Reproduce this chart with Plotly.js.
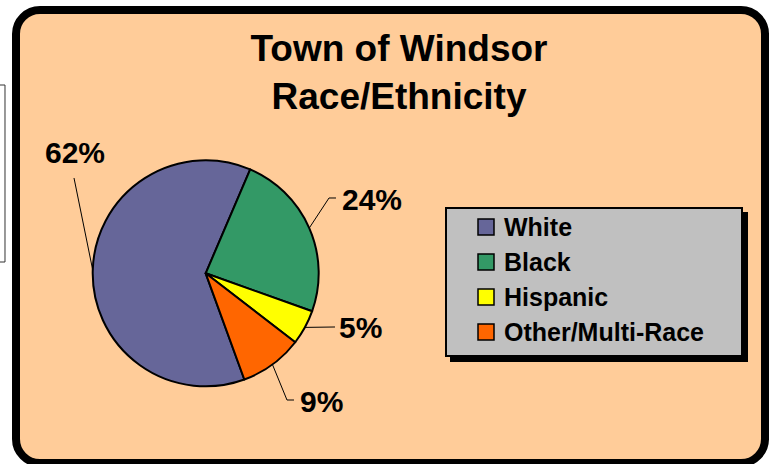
<!DOCTYPE html>
<html>
<head>
<meta charset="utf-8">
<script src="https://cdn.plot.ly/plotly-3.0.1.min.js"></script>
<style>html,body{margin:0;padding:0;background:#fff;}#chart{width:769px;height:464px;}</style>
</head>
<body>
<div id="chart"></div>
<script>
// ---- data ----
const categories = ["White", "Black", "Hispanic", "Other/Multi-Race"];
const values = [62, 24, 5, 9];
const colors = ["#666699", "#339966", "#FFFF00", "#FF6600"];
const chartTitle = "Town of Windsor<br>Race/Ethnicity";

// ---- layout constants (pixels) ----
const W = 769, H = 464;
const FONT = "Arial, 'Liberation Sans', sans-serif";
const PIE = {cx: 205.7, cy: 273.3, r: 113, rotation: 160};
// label centers and leader-line bends for each slice (pixels)
const labelPos = [[75, 153], [372, 199], [360, 327], [321, 401]];
const leaderBends = [[[74, 178]], [[329, 198], [336, 198]], [[335, 327]], [[287, 400], [294, 400]]];
const LEG = {x0: 445, y0: 207, x1: 743, y1: 357, shadow: 5, sq: 16, sqX: 478, textX: 502, rowY0: 227, rowDy: 35};

const px = x => x / W;
const py = y => 1 - y / H;
const P = (x, y) => px(x).toFixed(5) + "," + py(y).toFixed(5);

const total = values.reduce((a, b) => a + b, 0);

// ---- shapes ----
const shapes = [];
// rounded outer frame
(function () {
  const x0 = 16, x1 = 765, y0 = 10, y1 = 463, r = 24, k = 0.5523 * r;
  const d = "M" + P(x0 + r, y0) + " L" + P(x1 - r, y0) +
    " C" + P(x1 - r + k, y0) + " " + P(x1, y0 + r - k) + " " + P(x1, y0 + r) +
    " L" + P(x1, y1 - r) +
    " C" + P(x1, y1 - r + k) + " " + P(x1 - r + k, y1) + " " + P(x1 - r, y1) +
    " L" + P(x0 + r, y1) +
    " C" + P(x0 + r - k, y1) + " " + P(x0, y1 - r + k) + " " + P(x0, y1 - r) +
    " L" + P(x0, y0 + r) +
    " C" + P(x0, y0 + r - k) + " " + P(x0 + r - k, y0) + " " + P(x0 + r, y0) + " Z";
  shapes.push({type: "path", xref: "paper", yref: "paper", path: d, fillcolor: "#FFCC99",
    line: {color: "#000", width: 8}, layer: "below"});
})();
// partial box at the left edge
shapes.push({type: "path", xref: "paper", yref: "paper",
  path: "M" + P(0, 85) + " L" + P(5, 85) + " L" + P(5, 262) + " L" + P(0, 262),
  line: {color: "#333", width: 1}, layer: "below"});

// leader lines: from slice mid-angle on the rim to the label
let cum = 0;
const annotations = [];
values.forEach((v, i) => {
  const mid = PIE.rotation + (cum + v / 2) / total * 360;
  cum += v;
  const a = mid * Math.PI / 180;
  const ax = PIE.cx + PIE.r * Math.sin(a);
  const ay = PIE.cy - PIE.r * Math.cos(a);
  let d = "M" + P(ax, ay);
  leaderBends[i].forEach(b => { d += " L" + P(b[0], b[1]); });
  shapes.push({type: "path", xref: "paper", yref: "paper", path: d, line: {color: "#000", width: 1}});
  annotations.push({xref: "paper", yref: "paper", x: px(labelPos[i][0]), y: py(labelPos[i][1]),
    xanchor: "center", yanchor: "middle", showarrow: false,
    text: Math.round(v / total * 100) + "%",
    font: {family: FONT, size: 30, color: "#000", weight: "bold"}});
});

// legend (box, shadow, swatches, labels)
shapes.push({type: "rect", xref: "paper", yref: "paper",
  x0: px(LEG.x0 + LEG.shadow), x1: px(LEG.x1 + LEG.shadow), y0: py(LEG.y0 + LEG.shadow), y1: py(LEG.y1 + LEG.shadow),
  fillcolor: "#000", line: {width: 0}});
shapes.push({type: "rect", xref: "paper", yref: "paper",
  x0: px(LEG.x0 + 1), x1: px(LEG.x1 - 1), y0: py(LEG.y0 + 1), y1: py(LEG.y1 - 1),
  fillcolor: "#C0C0C0", line: {color: "#000", width: 2}});
categories.forEach((c, i) => {
  const cy = LEG.rowY0 + i * LEG.rowDy;
  shapes.push({type: "rect", xref: "paper", yref: "paper",
    x0: px(LEG.sqX), x1: px(LEG.sqX + LEG.sq), y0: py(cy - LEG.sq / 2), y1: py(cy + LEG.sq / 2),
    fillcolor: colors[i], line: {color: "#000", width: 1.5}});
  annotations.push({xref: "paper", yref: "paper", x: px(LEG.textX), y: py(cy),
    xanchor: "left", yanchor: "middle", showarrow: false, text: c,
    font: {family: FONT, size: 25, color: "#000", weight: "bold"}});
});

const trace = {
  type: "pie",
  labels: categories,
  values: values,
  sort: false,
  direction: "clockwise",
  rotation: PIE.rotation,
  textinfo: "none",
  hoverinfo: "label+percent",
  marker: {colors: colors, line: {color: "#000", width: 2}},
  domain: {
    x: [px(PIE.cx - PIE.r), px(PIE.cx + PIE.r)],
    y: [py(PIE.cy + PIE.r), py(PIE.cy - PIE.r)]
  },
  showlegend: false
};

const layout = {
  width: W, height: H,
  margin: {l: 0, r: 0, t: 0, b: 0},
  paper_bgcolor: "#FFFFFF",
  showlegend: false,
  title: {text: chartTitle, x: px(399), xanchor: "center", xref: "paper",
    y: py(61), yanchor: "top", yref: "container",
    font: {family: FONT, size: 37, color: "#000", weight: "bold"}},
  shapes: shapes,
  annotations: annotations
};

Plotly.newPlot("chart", [trace], layout, {staticPlot: true, displayModeBar: false});
</script>
</body>
</html>
